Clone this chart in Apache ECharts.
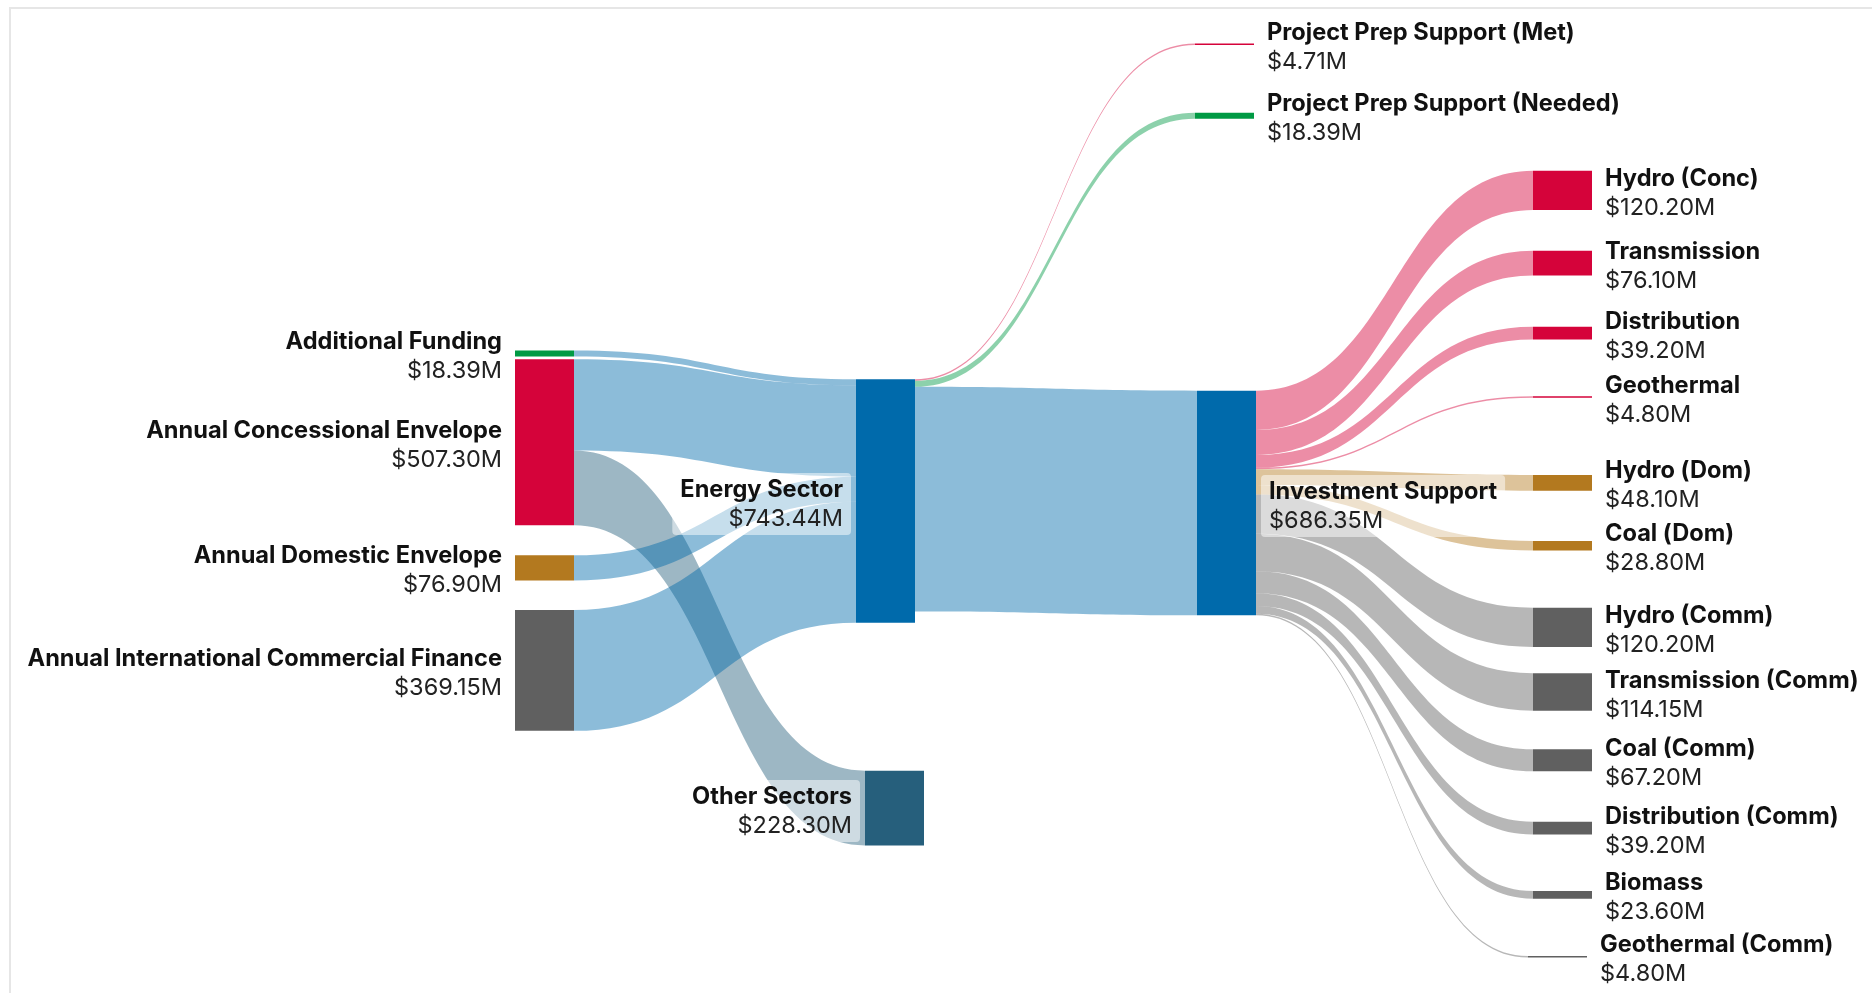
<!DOCTYPE html>
<html>
<head>
<meta charset="utf-8">
<title>Energy Finance Flows</title>
<script src="https://cdn.jsdelivr.net/npm/echarts@6/dist/echarts.min.js"></script>
<style>
  html, body { margin: 0; padding: 0; background: #ffffff; overflow: hidden; }
  #frame {
    position: absolute; left: 9px; top: 7px; width: 1900px; height: 1000px;
    border-left: 2px solid #e6e6e6; border-top: 2px solid #e6e6e6;
  }
  #chart { position: absolute; left: 0; top: 0; width: 1872px; height: 993px; }
</style>
</head>
<body>
<div id="frame"></div>
<div id="chart"></div>
<script>
// ---- Data (US$ millions) ----
const nodeNames = [
  'Additional Funding',
  'Annual Concessional Envelope',
  'Annual Domestic Envelope',
  'Annual International Commercial Finance',
  'Energy Sector',
  'Other Sectors',
  'Project Prep Support (Met)',
  'Project Prep Support (Needed)',
  'Investment Support',
  'Hydro (Conc)',
  'Transmission',
  'Distribution',
  'Geothermal',
  'Hydro (Dom)',
  'Coal (Dom)',
  'Hydro (Comm)',
  'Transmission (Comm)',
  'Coal (Comm)',
  'Distribution (Comm)',
  'Biomass',
  'Geothermal (Comm)'
];
const nodeTotals = [
  18.39, 507.30, 76.90, 369.15,
  743.44, 228.30,
  4.71, 18.39, 686.35,
  120.20, 76.10, 39.20, 4.80,
  48.10, 28.80,
  120.20, 114.15, 67.20, 39.20, 23.60, 4.80
];

const linkSources = [
  'Additional Funding',
  'Annual Concessional Envelope',
  'Annual Concessional Envelope',
  'Annual Domestic Envelope',
  'Annual International Commercial Finance',
  'Energy Sector', 'Energy Sector', 'Energy Sector',
  'Investment Support', 'Investment Support', 'Investment Support', 'Investment Support',
  'Investment Support', 'Investment Support',
  'Investment Support', 'Investment Support', 'Investment Support',
  'Investment Support', 'Investment Support', 'Investment Support'
];
const linkTargets = [
  'Energy Sector',
  'Energy Sector',
  'Other Sectors',
  'Energy Sector',
  'Energy Sector',
  'Project Prep Support (Met)', 'Project Prep Support (Needed)', 'Investment Support',
  'Hydro (Conc)', 'Transmission', 'Distribution', 'Geothermal',
  'Hydro (Dom)', 'Coal (Dom)',
  'Hydro (Comm)', 'Transmission (Comm)', 'Coal (Comm)',
  'Distribution (Comm)', 'Biomass', 'Geothermal (Comm)'
];
const linkValues = [
  18.39,
  279.00,
  228.30,
  76.90,
  369.15,
  4.71, 18.39, 686.35,
  120.20, 76.10, 39.20, 4.80,
  48.10, 28.80,
  120.20, 114.15, 67.20,
  39.20, 23.60, 4.80
];

// ---- Styling ----
const RED = '#d5033a', GREEN = '#009a44', BROWN = '#b3791f', GREY = '#606060',
      BLUE = '#006aab', TEAL = '#265f7c';
const nodeColor = {
  'Additional Funding': GREEN,
  'Annual Concessional Envelope': RED,
  'Annual Domestic Envelope': BROWN,
  'Annual International Commercial Finance': GREY,
  'Energy Sector': BLUE,
  'Other Sectors': TEAL,
  'Project Prep Support (Met)': RED,
  'Project Prep Support (Needed)': GREEN,
  'Investment Support': BLUE,
  'Hydro (Conc)': RED, 'Transmission': RED, 'Distribution': RED, 'Geothermal': RED,
  'Hydro (Dom)': BROWN, 'Coal (Dom)': BROWN,
  'Hydro (Comm)': GREY, 'Transmission (Comm)': GREY, 'Coal (Comm)': GREY,
  'Distribution (Comm)': GREY, 'Biomass': GREY, 'Geothermal (Comm)': GREY
};
const labelLeft = new Set([
  'Additional Funding', 'Annual Concessional Envelope', 'Annual Domestic Envelope',
  'Annual International Commercial Finance', 'Energy Sector', 'Other Sectors'
]);

// Node placement inside the sankey box (pixels, converted to local ratios)
const W = 1872, H = 993;
const placement = {
  'Additional Funding': [515, 350.5],
  'Annual Concessional Envelope': [515, 359.3],
  'Annual Domestic Envelope': [515, 555.3],
  'Annual International Commercial Finance': [515, 610],
  'Energy Sector': [856, 379.3],
  'Other Sectors': [865, 770.7],
  'Project Prep Support (Met)': [1195, 43.5],
  'Project Prep Support (Needed)': [1195, 112.7],
  'Investment Support': [1197, 390.7],
  'Hydro (Conc)': [1533, 170.7],
  'Transmission': [1533, 250.7],
  'Distribution': [1533, 326.7],
  'Geothermal': [1533, 396.3],
  'Hydro (Dom)': [1533, 475],
  'Coal (Dom)': [1533, 541],
  'Hydro (Comm)': [1533, 607.7],
  'Transmission (Comm)': [1533, 673.3],
  'Coal (Comm)': [1533, 749.3],
  'Distribution (Comm)': [1533, 821.7],
  'Biomass': [1533, 891],
  'Geothermal (Comm)': [1528, 956]
};

const nodes = nodeNames.map((name, i) => ({
  name: name,
  value: nodeTotals[i],
  localX: placement[name][0] / W,
  localY: placement[name][1] / H,
  itemStyle: { color: nodeColor[name] },
  label: { position: labelLeft.has(name) ? 'left' : 'right' }
}));
const links = linkSources.map((s, i) => ({
  source: s, target: linkTargets[i], value: linkValues[i]
}));

const chart = echarts.init(document.getElementById('chart'), null, { renderer: 'canvas' });
chart.setOption({
  animation: false,
  backgroundColor: 'transparent',
  series: [{
    type: 'sankey',
    left: 0, top: 0, width: W, height: H,
    nodeAlign: 'left',
    layoutIterations: 0,
    nodeWidth: 59,
    nodeGap: 69.85,
    draggable: false,
    emphasis: { disabled: true },
    data: nodes,
    links: links,
    itemStyle: { borderWidth: 0 },
    lineStyle: { color: 'target', opacity: 0.45, curveness: 0.5 },
    label: {
      show: true,
      distance: 5,
      offset: [0, 3],
      padding: [2, 8, 2, 8],
      borderRadius: 4,
      backgroundColor: 'rgba(255,255,255,0.5)',
      formatter: p => '{n|' + p.name + '}\n{v|$' + Number(p.value).toFixed(2) + 'M}',
      rich: {
        n: { fontFamily: 'Inter', fontWeight: 700, fontSize: 23.6, lineHeight: 29, color: '#111111' },
        v: { fontFamily: 'Inter', fontWeight: 400, fontSize: 23.5, lineHeight: 29, color: '#222222' }
      }
    }
  }]
});
</script>
</body>
</html>
